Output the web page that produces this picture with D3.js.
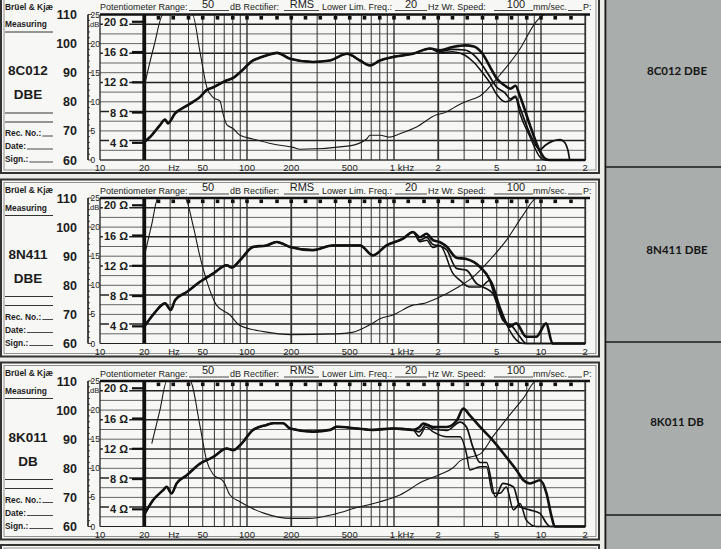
<!DOCTYPE html>
<html>
<head>
<meta charset="utf-8">
<script src="https://cdn.jsdelivr.net/npm/d3@7/dist/d3.min.js"></script>
<style>
  body { margin: 0; background: #ecece9; }
  svg { display: block; }
</style>
</head>
<body>
<div id="chart"></div>
<script>
const models = ["8C012", "8N411", "8K011"];
const modelSuffix = ["DBE", "DBE", "DB"];
const sideLabels = ["8C012 DBE", "8N411 DBE", "8K011 DB"];

const levelTicks = [60, 70, 80, 90, 100, 110];
const relTicks = [0, 5, 10, 15, 20, 25];
const ohmTicks = [4, 8, 12, 16, 20];
const freqTicks = [10, 20, 50, 100, 200, 500, 1000, 2000, 5000, 10000, 20000];
const freqTickLabels = ["10", "20", "50", "100", "200", "500", "1 kHz", "2", "5", "10", "2"];
const thirdOctave = [25, 31.5, 40, 50, 63, 80, 100, 125, 160, 200, 250, 315, 400, 500, 630, 800,
  1000, 1250, 1600, 2000, 2500, 3150, 4000, 5000, 6300, 8000, 10000, 12500, 16000];

const headerFields = ["Potentiometer Range:", "dB  Rectifier:", "Lower Lim. Freq.:", "Hz   Wr. Speed:", "mm/sec.", "P:"];
const headerValues = ["50", "RMS", "20", "100"];
const sheetFields = ["Brüel & Kjæ", "Measuring", "Rec. No.:", "Date:", "Sign.:"];

// 8C012 DBE  [Hz, dB]  / impedance [Hz, ohm]
const c012Shared = [[20,66.2],[22,68],[25.6,72],[27.7,73.9],[29,72.6],[32.4,76],[38.5,78.5],[43,80],[48,81.7],
  [53,84],[59,85],[66,86.3],[73,87.4],[80,88.1],[90,90.2],[110,94.2],[123,95.2],[137,96],[160,96.8],[196,94.8],
  [281,93.7],[367,94.2],[479,96.5],[587,94.2],[687,92.5],[803,94.2],[985,95.4],[1346,96.5],[1758,98.3]];
const c012On = [[2055,97.7],[2500,98.8],[3040,99.4],[3500,99],[4000,96.5],[4500,92],[5000,88],[5700,85.5],
  [6200,84.5],[6700,85.5],[7190,82],[8410,72],[9840,63],[10650,60.5],[11500,60],[20000,60]];
const c012Mid = [[2055,97.3],[2500,98],[3040,97.8],[3500,96],[4000,92.5],[4500,88.5],[5000,85],[5700,83],
  [6200,81],[6700,82],[7190,78],[8410,69],[9840,63.5],[10650,65],[12000,66.5],[13460,67],[14500,66],
  [15300,63],[15740,60],[20000,60]];
const c012Off = [[2055,96.8],[2500,97.2],[3040,96],[3500,93.5],[4000,90],[4500,86.5],[5000,82.5],[5700,80],
  [6200,80.5],[6700,81.5],[7190,76],[8410,68],[9840,61],[10650,60],[20000,60]];
const c012Imp = [[20,11.4],[21.5,14.1],[23.3,16.8],[26.9,21.4],[42.5,21.4],[47.9,16],[53.2,11.4],[58.7,10],
  [65.5,9.5],[68.8,7.8],[72.8,6.4],[80.3,5.9],[89.6,5],[110,4.5],[150,3.84],[206,3.4],[229,3.15],[500,3.6],
  [651,4.5],[687,5],[803,5],[940,4.75],[1097,5.2],[1425,6.1],[1950,7.7],[2153,7.9],[2813,9.1],[3124,9.5],
  [3850,10.2],[5265,13],[7190,16.4],[9100,19.8],[10650,21.4],[20000,21.4]];

// 8N411 DBE
const n411Shared = [[20,65.8],[23.3,70.3],[27.7,73.8],[30.3,71.5],[32.4,74.9],[38.9,77.7],[47.9,81.2],
  [58.7,84],[72.8,86.9],[78.7,86.1],[89.6,88.6],[110,93.2],[136,93.7],[159,94.9],[196,93.2],[281,92.1],
  [383,93.7],[587,93.7],[719,90.3],[889,93.7],[1150,96],[1346,98.3]];
const n411On = [[1500,96.5],[1665,97.7],[1840,95.5],[2055,94.8],[2280,93.3],[2660,89.5],[3110,89],
  [3850,86.3],[4500,81.7],[4980,74.9],[5500,69.2],[6100,65.8],[6780,66.9],[7940,62.3],[9280,62.3],
  [10850,66.9],[11980,60],[20000,60]];
const n411Mid = [[1500,95.5],[1665,96.5],[1840,94],[2055,93.5],[2280,92.2],[2660,85.8],[3110,85.2],
  [3650,80.6],[4000,79.5],[4700,77.2],[5500,68],[6400,65.8],[7190,62.3],[7940,60],[20000,60]];
const n411Off = [[1500,95],[1665,95.5],[1840,93],[2055,93.7],[2520,84],[2813,81.7],[3280,79.4],[3850,79.4],
  [4500,81.7],[5265,72.6],[6100,64.6],[7550,60],[20000,60]];
const n411Imp = [[20,13.2],[22.5,17.5],[24.8,21.4],[37.8,21.4],[43,17.3],[47.9,13.2],[53.2,10],[62,6.8],
  [76.6,5.5],[89.6,4.1],[130,3.3],[200,2.9],[400,3],[520,3.2],[700,4.3],[803,5],[985,5.5],[1346,6.8],
  [1574,7],[1963,7.7],[2685,9.1],[3447,10.5],[4500,12.8],[5874,15.5],[7550,18.7],[9400,21],[9840,21.4],
  [20000,21.4]];

// 8K011 DB
const k011Shared = [[20.2,64.5],[23,69.1],[26.9,72.5],[28.4,73.6],[30.7,71.4],[33.2,74.8],[38.9,77.6],
  [47.9,81.6],[59,83.9],[72.8,86.8],[80.8,86.2],[89.6,87.9],[110,93.2],[136,94.9],[151,95.5],[176,95.5],
  [196,93.7],[283,92.6],[367,93.2],[407,94.3],[557,93.7],[723,93.2],[987,93.7],[1348,93.2]];
const k011On = [[1480,94],[1580,95.4],[1850,94.2],[2290,94.2],[2680,96.5],[2960,100.5],[3280,98.2],
  [3850,94.2],[4700,89.6],[5800,83.9],[6800,79.4],[7600,75.9],[8400,74.8],[9840,75.9],[10900,71.4],
  [11800,63.4],[12400,60],[20000,60]];
const k011Mid = [[1480,92.5],[1650,95],[1850,93.5],[2290,93],[2813,95.9],[3110,94.2],[3440,87.3],
  [3850,82],[4260,82],[4900,70.2],[5500,74.8],[6500,73.6],[7190,66.8],[8400,65.7],[9840,64.5],
  [10900,61.1],[11500,60],[20000,60]];
const k011Off = [[1480,91],[1650,94.2],[1850,92.5],[2290,90.8],[2813,90.8],[3110,85.1],[3280,79.4],
  [3850,80.5],[4260,80.5],[4700,71.4],[5265,71.4],[5800,73.6],[6500,65.7],[7190,67.9],[7940,62.2],
  [9280,60],[20000,60]];
const k011Imp = [[22.5,12.7],[25.5,17],[28.5,21.4],[40.9,21.4],[47.9,15],[53.2,10.4],[58.9,8.6],[69.1,7.7],
  [76.6,5.9],[89.6,5],[130,3.5],[200,2.8],[260,2.8],[400,3.4],[550,4.2],[803,5],[1097,5.9],[1574,7.7],
  [2055,8.6],[2520,9.5],[2813,10.4],[3280,10.9],[3850,11.3],[4700,13.6],[5800,15.9],[7600,18.7],
  [9300,21],[9840,21.4],[20000,21.4]];

const panelSeries = [
  { imp: c012Imp, resp: [c012Shared.concat(c012Off), c012Shared.concat(c012Mid), c012Shared.concat(c012On)] },
  { imp: n411Imp, resp: [n411Shared.concat(n411Off), n411Shared.concat(n411Mid), n411Shared.concat(n411On)] },
  { imp: k011Imp, resp: [k011Shared.concat(k011Off), k011Shared.concat(k011Mid), k011Shared.concat(k011On)] }
];

// ---- SVG setup ----
const width = 721, height = 549;
const panelTops = [0, 183.5, 366.5, 549];
const gridTop = 14.5, gridH = 145.5;
const ink = "#1c1c1c";
const font = "'Liberation Sans', Arial, sans-serif";

const svg = d3.select("#chart").append("svg")
  .attr("width", width).attr("height", height);

svg.append("rect").attr("width", width).attr("height", height).attr("fill", "#ecece9");

const x = d3.scaleLog().domain([10, 20000]).range([100, 100 + 147 * Math.log10(2000)]);
const ohmToDb = z => 55.5 + 2.6 * z;

const gridFreqs = [];
[10, 100, 1000, 10000].forEach(dec => {
  for (let k = 1; k < 10; k++) if (dec * k <= 20000) gridFreqs.push(dec * k);
});

const defs = svg.append("defs");

function drawPanel(i) {
  const top = panelTops[i];
  const g = svg.append("g").attr("transform", `translate(0,${top})`);
  const y = d3.scaleLinear().domain([60, 110]).range([gridTop + gridH, gridTop]);

  // frame
  g.append("rect").attr("x", 1).attr("y", -4).attr("width", 598).attr("height", 177)
    .attr("fill", "#f7f7f5").attr("stroke", "#333").attr("stroke-width", 2);
  g.append("rect").attr("x", 4).attr("y", -1).attr("width", 592).attr("height", 171)
    .attr("fill", "none").attr("stroke", "#777").attr("stroke-width", 0.8);

  // header
  const hdr = g.append("g").style("font-family", font).style("font-size", "9px").attr("fill", ink);
  const fieldX = [100, 230, 322, 428, 533, 583];
  headerFields.forEach((t, k) => hdr.append("text").attr("x", fieldX[k]).attr("y", 10).text(t));
  const valX = [208, 302, 411, 516];
  const ulines = [[189, 229], [284, 319], [395, 427], [494, 533], [568, 582]];
  ulines.forEach(u => hdr.append("line").attr("x1", u[0]).attr("x2", u[1]).attr("y1", 10.5).attr("y2", 10.5)
    .attr("stroke", ink).attr("stroke-width", 0.8));
  headerValues.forEach((t, k) => hdr.append("text").attr("x", valX[k]).attr("y", 7.5)
    .attr("text-anchor", "middle").style("font-size", "11px").text(t));

  if (i >= models.length) return;
  const series = panelSeries[i];

  // left label column of the sheet
  const lc = g.append("g").style("font-family", font).style("font-weight", "bold").attr("fill", ink);
  lc.append("text").attr("x", 5).attr("y", 9.5).style("font-size", "8.4px").text(sheetFields[0]);
  lc.append("text").attr("x", 5).attr("y", 27).style("font-size", "8.4px").text(sheetFields[1]);
  lc.append("text").attr("x", 28).attr("y", 75).attr("text-anchor", "middle").style("font-size", "13.5px")
    .style("font-weight", "600").text(models[i]);
  lc.append("text").attr("x", 28).attr("y", 99).attr("text-anchor", "middle").style("font-size", "13.5px")
    .style("font-weight", "600").text(modelSuffix[i]);
  [32, 113, 122].forEach(ly => lc.append("line").attr("x1", 5).attr("x2", 53).attr("y1", ly).attr("y2", ly)
    .attr("stroke", ink).attr("stroke-width", 0.9));
  [136, 149, 162].forEach((ly, k) => {
    const t = lc.append("text").attr("x", 5).attr("y", ly).style("font-size", "8.4px").text(sheetFields[k + 2]);
    const w = t.node().getComputedTextLength();
    lc.append("line").attr("x1", 6 + w).attr("x2", 53).attr("y1", ly).attr("y2", ly)
      .attr("stroke", ink).attr("stroke-width", 0.8);
  });

  // absolute dB labels
  g.selectAll(".lvl").data(levelTicks).enter().append("text")
    .attr("x", 77).attr("y", d => y(d) + 4.5).attr("text-anchor", "end")
    .style("font-family", font).style("font-size", "12.5px").style("font-weight", "bold")
    .attr("fill", ink).text(d => d);

  // relative 0-25 dB scale
  const rel = d3.scaleLinear().domain([0, 25]).range([gridTop + gridH, gridTop]);
  g.append("line").attr("x1", 88).attr("x2", 88).attr("y1", rel(25)).attr("y2", rel(0))
    .attr("stroke", ink).attr("stroke-width", 1.6);
  g.selectAll(".rmin").data(d3.range(0, 26)).enter().append("line")
    .attr("x1", 88).attr("x2", d => d % 5 === 0 ? 92 : 90)
    .attr("y1", d => rel(d)).attr("y2", d => rel(d)).attr("stroke", ink).attr("stroke-width", 0.8);
  g.selectAll(".rl").data(relTicks).enter().append("text")
    .attr("x", 90.5).attr("y", d => rel(d) + 3).style("font-family", font).style("font-size", "8.4px")
    .attr("fill", ink).text(d => d);
  g.append("text").attr("x", 90).attr("y", rel(25) + 12).style("font-family", font).style("font-size", "7.5px")
    .attr("fill", ink).text("dB");

  // grid
  const grid = g.append("g");
  d3.range(0, 16).forEach(k => {
    const gy = gridTop + k * gridH / 15;
    const heavy = k % 3 === 1;
    grid.append("line").attr("x1", 100).attr("x2", x(20000)).attr("y1", gy).attr("y2", gy)
      .attr("stroke", heavy ? "#222" : "#555").attr("stroke-width", heavy ? 1.5 : 0.9);
  });
  gridFreqs.forEach(f => {
    const lead = String(f)[0];
    const w = f === 20 ? 3.8 : (lead === "2" ? 1.8 : (f === 10 || f === 100 || f === 1000 || f === 10000 ? 1.4 : 1));
    grid.append("line").attr("x1", x(f)).attr("x2", x(f)).attr("y1", gridTop).attr("y2", gridTop + gridH)
      .attr("stroke", f === 20 ? "#111" : "#333").attr("stroke-width", w);
  });
  grid.append("line").attr("x1", 100).attr("x2", 590).attr("y1", gridTop).attr("y2", gridTop)
    .attr("stroke", "#111").attr("stroke-width", 2.6);
  grid.append("line").attr("x1", 100).attr("x2", x(20000)).attr("y1", gridTop + gridH).attr("y2", gridTop + gridH)
    .attr("stroke", "#222").attr("stroke-width", 1.2);
  grid.selectAll(".sq").data(thirdOctave).enter().append("rect")
    .attr("x", d => x(d) - 1.8).attr("y", gridTop + 1.5).attr("width", 3.6).attr("height", 3.6).attr("fill", "#111");

  // ohm labels
  const ohmY = z => y(ohmToDb(z));
  g.selectAll(".ohm").data(ohmTicks).enter().append("text")
    .attr("x", 128).attr("y", d => ohmY(d) + 4).attr("text-anchor", "end")
    .style("font-family", font).style("font-size", "11px").style("font-weight", "bold")
    .attr("fill", ink).text(d => d + " Ω")
    .each(function () {
      const b = this.getBBox();
      d3.select(this.parentNode).insert("rect", () => this).attr("x", b.x - 1).attr("y", b.y + 1)
        .attr("width", b.width + 2).attr("height", b.height - 2).attr("fill", "#f7f7f5");
    });
  g.selectAll(".ohmt").data(ohmTicks).enter().append("line")
    .attr("x1", 132).attr("x2", 144).attr("y1", d => ohmY(d)).attr("y2", d => ohmY(d))
    .attr("stroke", "#111").attr("stroke-width", 2.2);

  // frequency labels
  g.selectAll(".fl").data(freqTicks).enter().append("text")
    .attr("x", (d, k) => k === 6 ? x(d) + 8 : x(d)).attr("y", gridTop + gridH + 11)
    .attr("text-anchor", "middle").style("font-family", font).style("font-size", "9.5px")
    .attr("fill", ink).text((d, k) => freqTickLabels[k]);
  g.append("text").attr("x", 174).attr("y", gridTop + gridH + 11).attr("text-anchor", "middle")
    .style("font-family", font).style("font-size", "9.5px").attr("fill", ink).text("Hz");

  // curves
  const pid = "pc" + i;
  defs.append("clipPath").attr("id", pid).append("rect")
    .attr("x", 100).attr("y", top + gridTop - 2).attr("width", 495).attr("height", gridH + 4);
  const plot = svg.append("g").attr("clip-path", `url(#${pid})`).append("g").attr("transform", `translate(0,${top})`);
  const clampDb = v => Math.max(60, Math.min(110, v));
  const line = d3.line().x(d => x(d[0])).y(d => y(clampDb(d[1]))).curve(d3.curveMonotoneX);
  const impLine = d3.line().x(d => x(d[0])).y(d => y(clampDb(ohmToDb(d[1])))).curve(d3.curveMonotoneX);

  plot.append("path").datum(series.imp).attr("d", impLine)
    .attr("fill", "none").attr("stroke", "#1a1a1a").attr("stroke-width", 1.1);
  const widths = [1.5, 1.7, 2.6];
  series.resp.forEach((s, k) => {
    plot.append("path").datum(s).attr("d", line)
      .attr("fill", "none").attr("stroke", "#111").attr("stroke-width", widths[k])
      .attr("stroke-linejoin", "round");
  });
}

panelTops.forEach((t, i) => drawPanel(i));

// ---- right-hand grey column ----
const side = svg.append("g");
side.append("rect").attr("x", 604).attr("y", 0).attr("width", width - 604).attr("height", height).attr("fill", "#a9adab");
side.append("line").attr("x1", 605.5).attr("x2", 605.5).attr("y1", 0).attr("y2", height).attr("stroke", "#1a1a1a").attr("stroke-width", 1.6);
[167, 342, 515].forEach(ly => side.append("line").attr("x1", 605).attr("x2", width).attr("y1", ly).attr("y2", ly)
  .attr("stroke", "#1a1a1a").attr("stroke-width", 1.6));
const sideY = [75, 254, 426];
sideLabels.forEach((t, k) => side.append("text").attr("x", 677).attr("y", sideY[k]).attr("text-anchor", "middle")
  .style("font-family", "Lato, 'Noto Sans', sans-serif").style("font-size", "11.5px").style("font-weight", "bold")
  .attr("fill", "#151515").text(t));
</script>
</body>
</html>
